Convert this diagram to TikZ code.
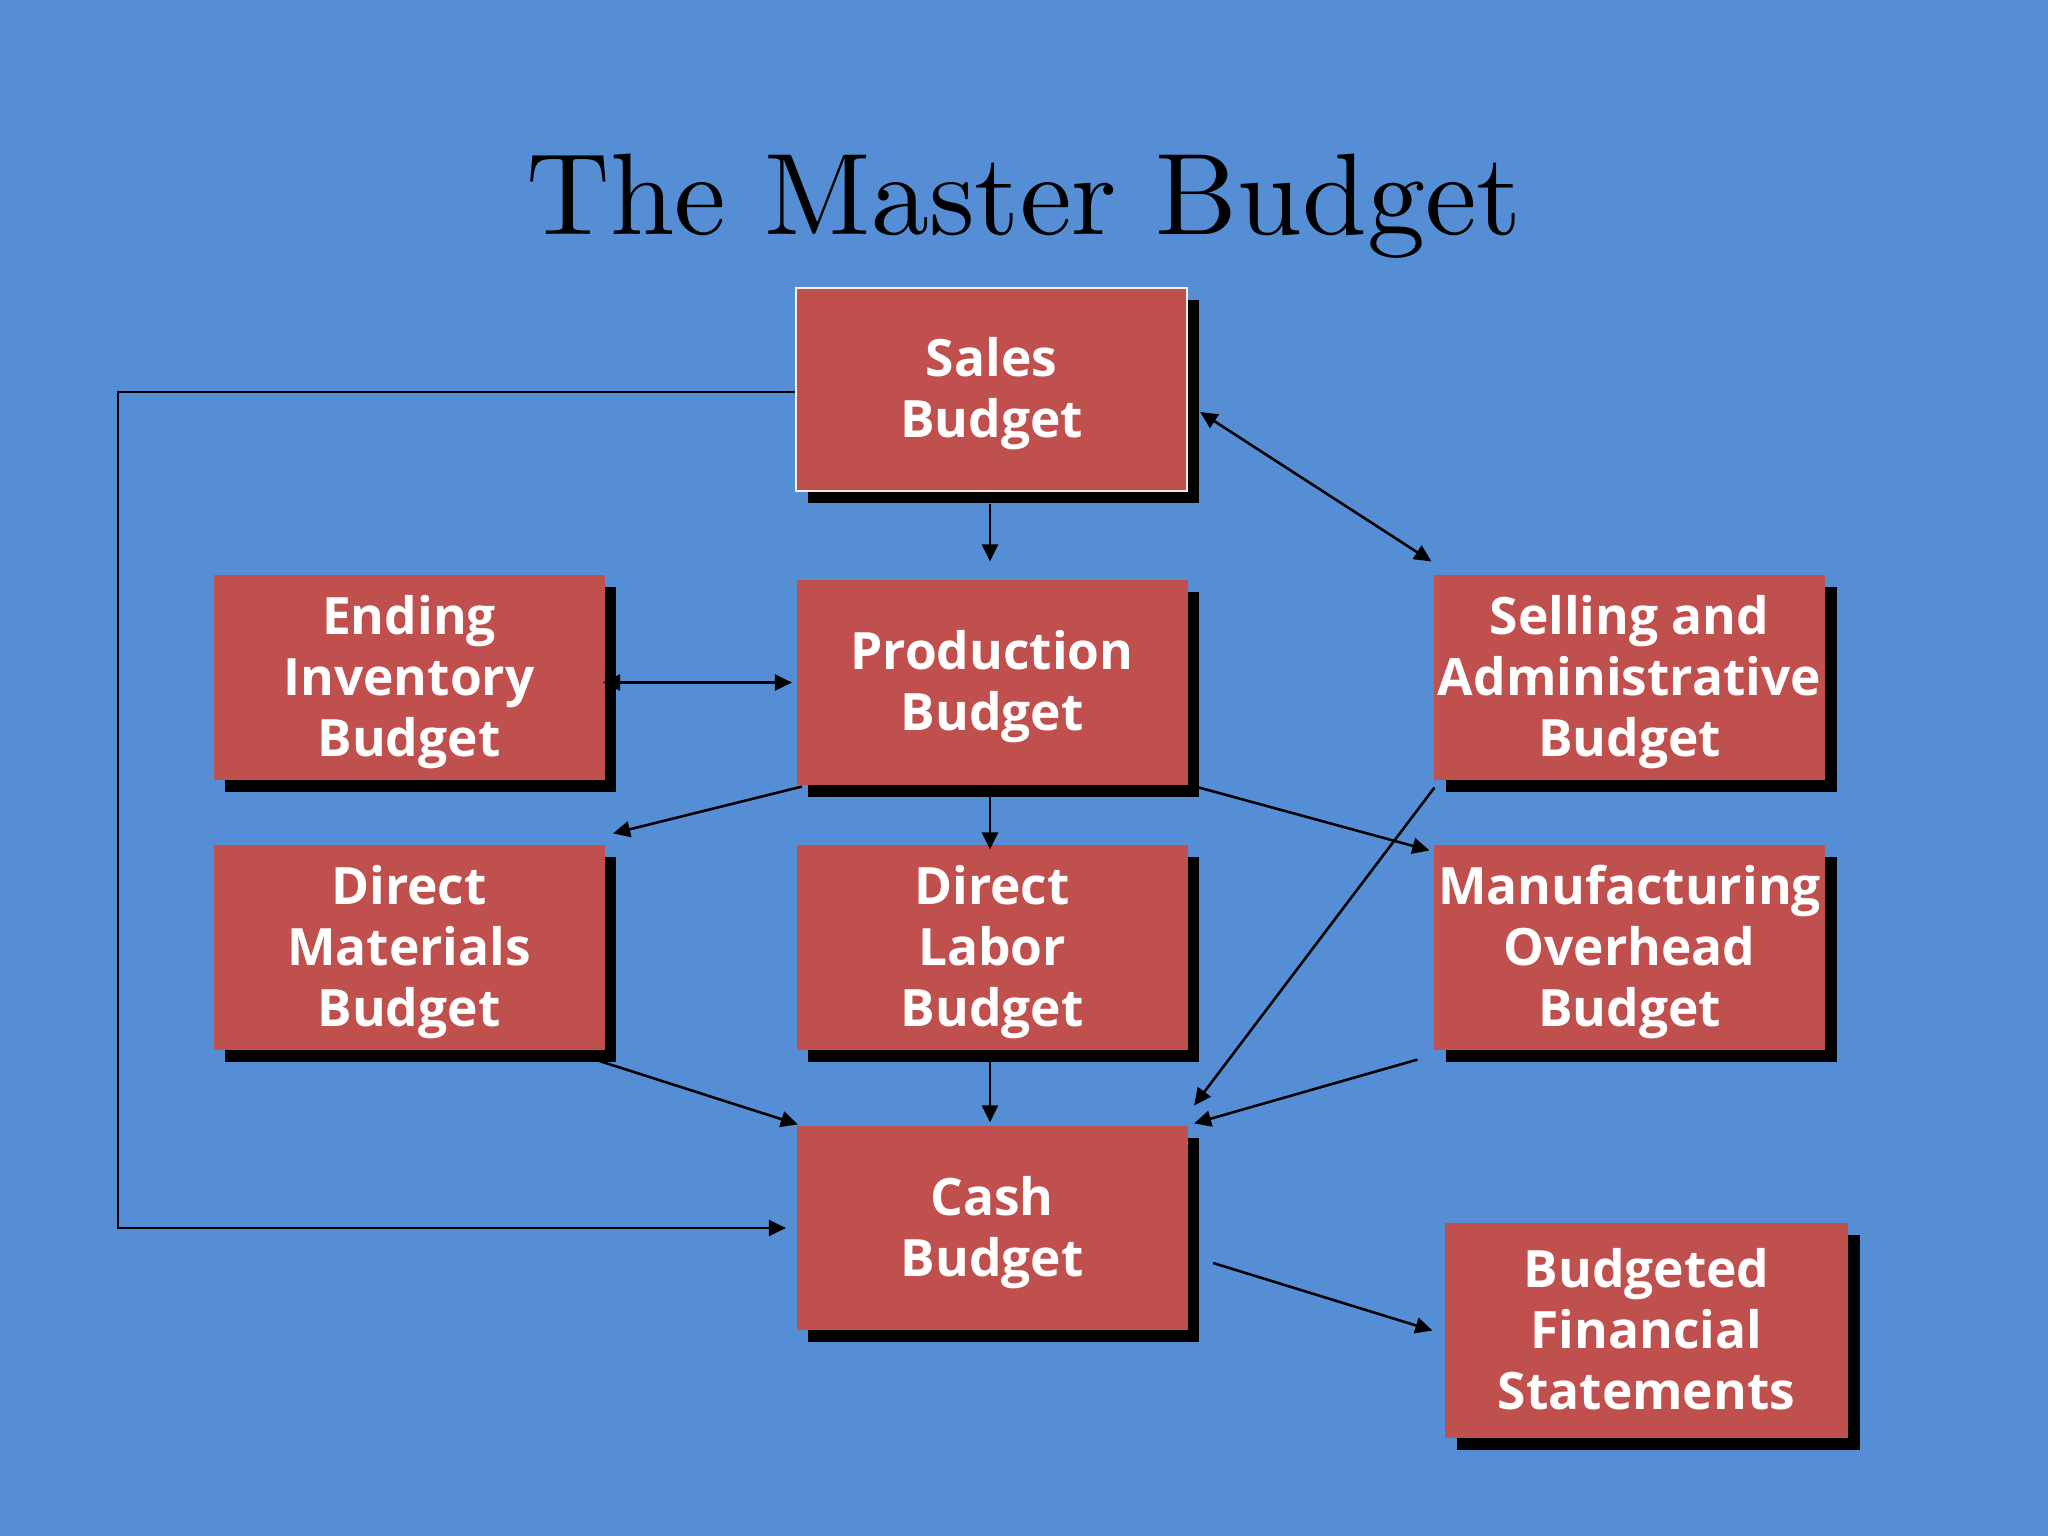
\documentclass[tikz,border=0pt]{standalone}
\usepackage{fontspec}
\newfontfamily\boxfont{Open Sans}
\newfontfamily\titlefont{lmroman10-regular}[Extension=.otf]
\usetikzlibrary{arrows.meta,calc,shadows}
\definecolor{bgblue}{HTML}{558ED5}
\definecolor{boxred}{HTML}{C0504D}
\definecolor{cream}{HTML}{F8F0E0}
\def\PX{0.3515625pt}
\newcommand\TopS{\rule{0pt}{17.6pt}}
\newcommand\BotS{\rule[-5pt]{0pt}{5pt}}
\begin{document}
\begin{tikzpicture}[x=0.3515625pt,y=-0.3515625pt,
  bbox/.style={rectangle,fill=boxred,inner sep=0pt,
    minimum width=391*\PX,minimum height=205*\PX,
    align=center,text=white,
    font=\boxfont\bfseries\fontsize{18.1}{21.5}\selectfont,
    drop shadow={shadow xshift=4.2pt,shadow yshift=-4.2pt,opacity=1,fill=black}},
  arr/.style={draw=black,line width=0.9pt,-{Triangle[length=6pt,width=5.6pt]}},
  darr/.style={draw=black,line width=0.9pt,{Triangle[length=6pt,width=5.6pt]}-{Triangle[length=6pt,width=5.6pt]}}]
\useasboundingbox (0,0) rectangle (2048,1536);
\fill[bgblue] (0,0) rectangle (2048,1536);
\node[anchor=base,font=\titlefont\fontsize{40.8}{48}\selectfont] (title) at (1024,235) {The Master Budget};
\node[bbox,minimum height=203*\PX,draw=cream,line width=0.8pt] (sales) at (991.5,389.5) {\TopS Sales\\Budget\BotS};
\node[bbox] (prod) at (992,682.5) {\TopS Production\\Budget\BotS};
\node[bbox] (endinv) at (409,677.5) {\TopS Ending\\Inventory\\Budget\BotS};
\node[bbox] (sa) at (1629.5,677.5) {\TopS Selling and\\Administrative\\Budget\BotS};
\node[bbox] (dm) at (409,947.5) {\TopS Direct\\Materials\\Budget\BotS};
\node[bbox] (dl) at (992,947.5) {\TopS Direct\\Labor\\Budget\BotS};
\node[bbox] (moh) at (1629.5,947.5) {\TopS Manufacturing\\Overhead\\Budget\BotS};
\node[bbox,minimum height=204*\PX] (cash) at (992,1228) {\TopS Cash\\Budget\BotS};
\node[bbox,minimum width=403*\PX,minimum height=215*\PX] (bfs) at (1646.5,1330.5) {\TopS Budgeted\\Financial\\Statements\BotS};
\coordinate (loopc) at (118,1228);
% connectors
\draw[arr] ($(sales.south)+(-1.5,12)$) -- ($(prod.north)+(-2,-18)$);
\draw[arr] ($(sales.west)+(0,2.5)$) -| (loopc) -- ($(cash.west)+(-10,0)$);
\draw[darr] ($(sales.east)+(12,22.5)$) -- ($(sa.north west)+(-2,-13)$);
\draw[darr] ($(endinv.east)+(-2,5)$) -- ($(prod.west)+(-4,0)$);
\draw[arr] ($(prod.south west)+(6,1)$) -- ($(dm.north east)+(8,-11)$);
\draw[arr] ($(prod.south)+(-2,11)$) -- ($(dl.north)+(-2,5)$);
\draw[arr] ($(prod.south east)+(11,2)$) -- ($(moh.north west)+(-4,6)$);
\draw[arr] ($(sa.south west)+(1,7)$) -- ($(cash.north east)+(6,-20)$);
\draw[arr] ($(moh.south west)+(-16,9)$) -- ($(cash.north east)+(6,-2)$);
\draw[arr] ($(dm.south east)+(-7,10)$) -- ($(cash.north west)+(2,-1)$);
\draw[arr] ($(dl.south)+(-2,10)$) -- ($(cash.north)+(-2,-3)$);
\draw[arr] ($(cash.east)+(25,35)$) -- ($(bfs.west)+(-12,0)$);
\end{tikzpicture}
\end{document}
